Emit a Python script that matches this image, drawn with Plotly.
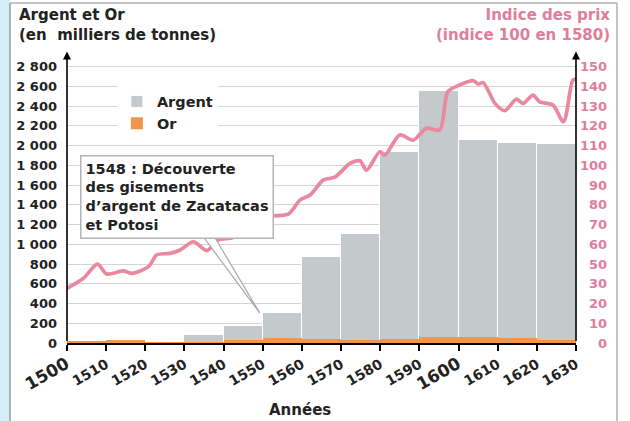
import plotly.graph_objects as go

# ---------------- data ----------------
decades = [1500, 1510, 1520, 1530, 1540, 1550, 1560, 1570, 1580, 1590, 1600, 1610, 1620]
argent = [0, 0, 0, 85, 175, 300, 870, 1100, 1940, 2550, 2055, 2030, 2020]
gold = [15, 30, 10, 10, 35, 50, 45, 35, 40, 65, 60, 55, 35]

price_years = [1500, 1504.2, 1507.8, 1510.1, 1514.4, 1516.5, 1520.8, 1522.9, 1526.3, 1528.9,
               1532.3, 1535.7, 1538.7, 1542.5, 1547.6, 1550.2, 1556.5, 1559.5, 1562.1, 1565.5,
               1568.4, 1572.3, 1574.8, 1576.5, 1579.9, 1581.2, 1585, 1588.4, 1591.8, 1595.2,
               1597.3, 1600.3, 1603.7, 1605, 1606.3, 1609.3, 1611.8, 1614.8, 1616.5, 1619,
               1620.7, 1624.1, 1626.8, 1629.2, 1630]
price_index = [37.7, 42.8, 50, 45, 46.5, 45.3, 48.7, 54.6, 55.4, 57.1,
               61.3, 56.8, 62.2, 63.5, 71.4, 74, 75.3, 82.4, 85, 92.6,
               94, 101, 102.3, 97.6, 106.9, 105.2, 115.4, 112.8, 118.8, 117.9,
               137.3, 140.7, 142.9, 141.2, 141.9, 131.4, 127.7, 133.5, 131.4, 135.6,
               132.2, 130.6, 122.1, 143.2, 143.6]

x_ticks = [1500, 1510, 1520, 1530, 1540, 1550, 1560, 1570, 1580, 1590, 1600, 1610, 1620, 1630]
left_ticks = list(range(0, 2801, 200))
right_tick_vals = [10, 20, 30, 40, 50, 60, 70, 80, 90, 100, 110, 120, 130, 140, 150]
right_tick_text = ["0", "10", "20", "30", "50", "60", "70", "80", "90", "100", "110", "120", "130", "140", "150"]

annot_text = "1548 : Découverte<br>des gisements<br>d’argent de Zacatacas<br>et Potosi"

# ---------------- styles ----------------
FONT = "DejaVu Sans"
DARK = "#222222"
PINK = "#e07e9a"
LINE_PINK = "#e9889f"
SILVER = "#c4c9cb"
GOLD = "#f0964a"

fig = go.Figure()
fig.add_trace(go.Bar(x=decades, y=argent, width=10, offset=0, name="Argent",
                     marker=dict(color=SILVER, line=dict(color="white", width=1))))
fig.add_trace(go.Bar(x=decades, y=gold, width=10, offset=0, name="Or",
                     marker=dict(color=GOLD, line=dict(width=0))))
fig.add_trace(go.Scatter(x=price_years, y=price_index, yaxis="y2", mode="lines",
                         line=dict(color=LINE_PINK, width=3.7, shape="spline", smoothing=0.8),
                         showlegend=False, cliponaxis=False))

def xlab(v):
    if v in (1500, 1600):
        return f"<span style='font-size:17px'>{v}</span>"
    return str(v)

W, H = 630, 421
L, R, T, B = 67, 54, 60, 78
ph = H - T - B  # plot height px

fig.update_layout(
    width=W, height=H,
    margin=dict(l=L, r=R, t=T, b=B, autoexpand=False),
    paper_bgcolor="white", plot_bgcolor="white",
    barmode="overlay", bargap=0,
    font=dict(family=FONT, color=DARK, size=14, weight="bold"),
    showlegend=True,
    legend=dict(x=0.098, y=0.91, xanchor="left", yanchor="top", bgcolor="white",
                font=dict(size=14.5, family=FONT, color=DARK, weight="bold"),
                itemwidth=30, tracegroupgap=0, borderwidth=0),
    xaxis=dict(range=[1500, 1630], tickvals=x_ticks, ticktext=[xlab(v) for v in x_ticks],
               tickangle=-30, ticks="outside", ticklen=6, tickwidth=1.5, tickcolor="black",
               showline=True, linecolor="black", linewidth=2, showgrid=False, zeroline=False,
               automargin=False,
               tickfont=dict(size=14, family=FONT, color=DARK, weight="bold")),
    yaxis=dict(range=[0, 2800 * ph / 276.3], tickvals=left_ticks,
               ticktext=[f"{v:,}".replace(",", "\u00a0") for v in left_ticks],
               showgrid=True, gridcolor="#d4d4d4", gridwidth=1, zeroline=False,
               showline=False, ticks="", ticklabelstandoff=9, automargin=False,
               tickfont=dict(size=13, family=FONT, color=DARK, weight="bold")),
    yaxis2=dict(overlaying="y", side="right", range=[10, 10 + ph / 1.974],
                showgrid=False, zeroline=False, showline=False, showticklabels=False,
                tickvals=right_tick_vals, ticks="", automargin=False),
)

# right tick labels (right-aligned as in reference)
for v, t in zip(right_tick_vals, right_tick_text):
    fig.add_annotation(x=1.065, xref="paper", y=v, yref="y2", text=t, showarrow=False,
                       xanchor="right", yanchor="middle",
                       font=dict(size=13, family=FONT, color=PINK, weight="bold"))

# axis arrows
for xp in (0, 1):
    fig.add_annotation(x=xp, xref="paper", y=1.03, yref="paper", ax=0, ay=291,
                       axref="pixel", ayref="pixel", text="", showarrow=True,
                       arrowhead=2, arrowsize=1, arrowwidth=1.6, arrowcolor="black")

# titles
fig.add_annotation(x=-0.098, xref="paper", y=1.197, yref="paper", xanchor="left", yanchor="top",
                   align="left", showarrow=False,
                   text="Argent et Or<br>(en\u00a0 milliers de tonnes)",
                   font=dict(size=15, family=FONT, color=DARK, weight="bold"))
fig.add_annotation(x=1.071, xref="paper", y=1.197, yref="paper", xanchor="right", yanchor="top",
                   align="right", showarrow=False,
                   text="Indice des prix<br>(indice 100 en 1580)",
                   font=dict(size=15, family=FONT, color=PINK, weight="bold"))
fig.add_annotation(x=0.458, xref="paper", y=-0.237, yref="paper", xanchor="center", yanchor="middle",
                   showarrow=False, text="Années",
                   font=dict(size=15, family=FONT, color=DARK, weight="bold"))

# callout wedge
fig.add_shape(type="path", xref="x", yref="y",
              path="M 1534 1120 L 1549.2 305 L 1537 1120 Z",
              fillcolor="white", line=dict(color="#a9a9a9", width=1.2), layer="above")

# callout box
fig.add_annotation(x=0.0255, xref="paper", y=0.664, yref="paper", xanchor="left", yanchor="top",
                   align="left", showarrow=False, text=annot_text,
                   bgcolor="white", bordercolor="#b4b4b4", borderwidth=1.5, borderpad=4,
                   font=dict(size=14.5, family=FONT, color=DARK, weight="bold"))

# outer frame
def px2x(p):
    return (p - L) / (W - L - R)

def px2y(p):
    return (H - B - p) / ph

fig.add_shape(type="rect", xref="paper", yref="paper", x0=px2x(0), x1=px2x(10), y0=px2y(H), y1=px2y(0),
              fillcolor="#d6eef8", line=dict(width=0), layer="below")
fig.add_shape(type="line", xref="paper", yref="paper", x0=px2x(10), x1=px2x(10), y0=px2y(H), y1=px2y(3),
              line=dict(color="#9a9a9a", width=1.5))
fig.add_shape(type="line", xref="paper", yref="paper", x0=px2x(10), x1=px2x(617), y0=px2y(3), y1=px2y(3),
              line=dict(color="#b0b0b0", width=1.5))
fig.add_shape(type="line", xref="paper", yref="paper", x0=px2x(617), x1=px2x(617), y0=px2y(H), y1=px2y(3),
              line=dict(color="#b0b0b0", width=1.5))

fig.write_html("out.html", config={"displayModeBar": False},
               post_script="document.body.style.margin='0';document.body.style.overflow='hidden';")
